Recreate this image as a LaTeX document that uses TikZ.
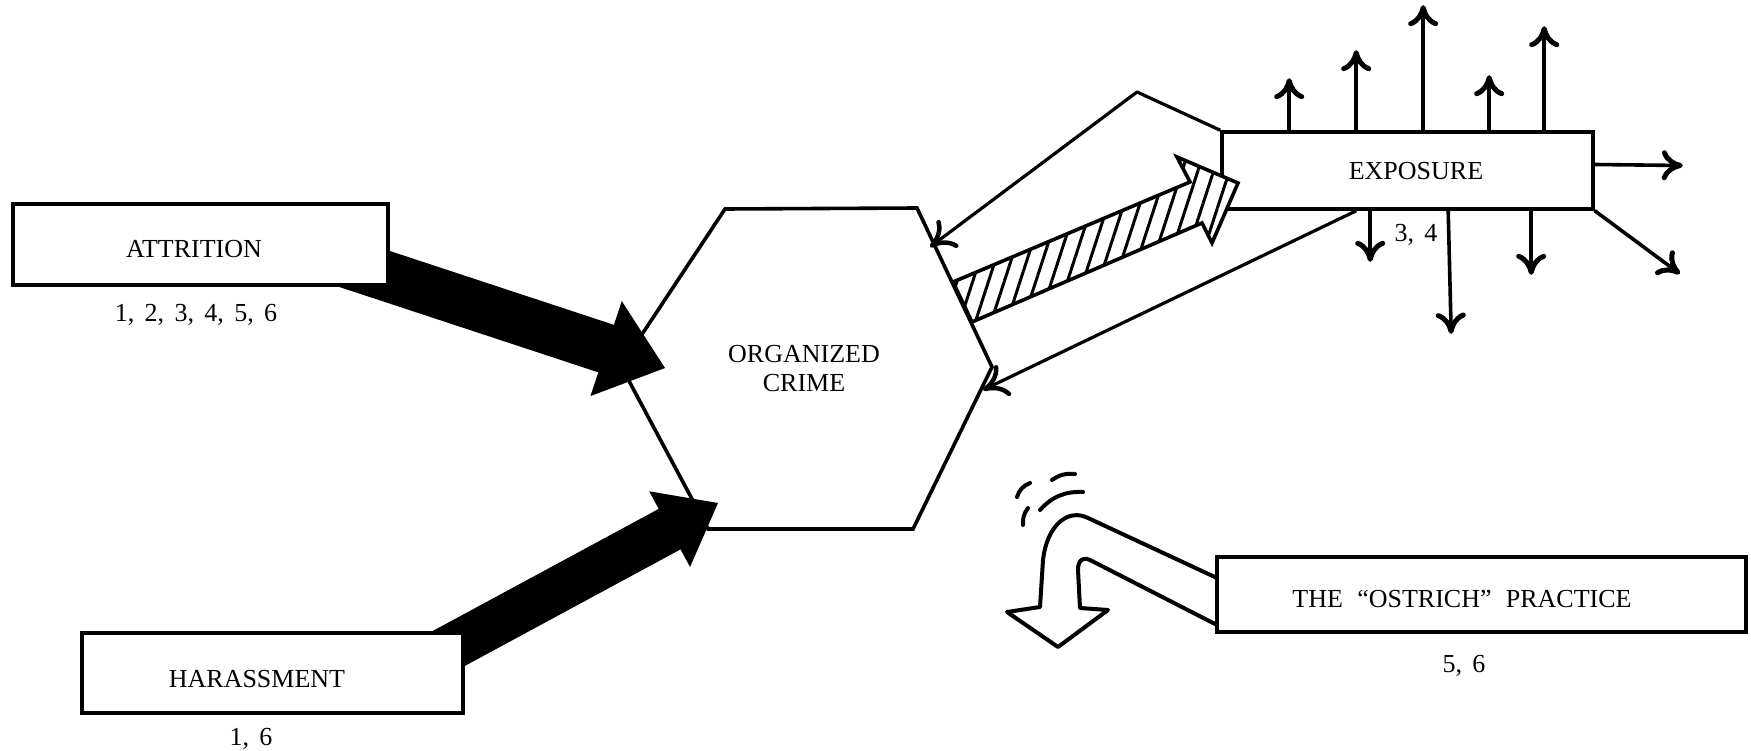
\documentclass[tikz,border=0pt]{standalone}
\usepackage{fontspec}
\setmainfont{Liberation Serif}
\usetikzlibrary{calc,arrows.meta,patterns.meta}

% block arrow: #1 name, #2 style, #3 start, #4 tip, #5 shaft half width, #6 head half width, #7 head length
\newcommand\blockarrow[7]{%
  \coordinate (#1-b) at ($(#4)!#7!(#3)$);
  \fill[#2] ($(#3)!#5!90:(#4)$) -- ($(#1-b)!#5!90:(#4)$) -- ($(#1-b)!#6!90:(#4)$) -- (#4)
     -- ($(#1-b)!#6!-90:(#4)$) -- ($(#1-b)!#5!-90:(#4)$) -- ($(#3)!#5!-90:(#4)$) -- cycle;
}
\newcommand\numspacing{\spaceskip=0.4em\relax}
\newcommand\ostspacing{\spaceskip=0.55em\relax}

\begin{document}
\begin{tikzpicture}[x=1pt,y=-1pt,
  box/.style={draw, line width=3.6pt, fill=white, inner sep=0pt,
    font=\fontsize{26}{30}\selectfont, text depth=0pt},
  num/.style={font=\fontsize{26}{30}\selectfont, execute at begin node=\numspacing, inner sep=0pt, anchor=base},
  ray/.style={line width=3.6pt, line cap=round,
    -{Computer Modern Rightarrow[length=21pt,width=30pt,line width=5pt]}},
  ret/.style={line width=3.2pt, line join=round,
    -{Computer Modern Rightarrow[length=24pt,width=34pt,line width=4.5pt]}},
  swoosh/.style={line width=4pt, line cap=round},
  outline/.style={line width=3.6pt, line join=miter}
]
\useasboundingbox (0,0) rectangle (1751,751);
\fill[white] (0,0) rectangle (1751,751);

% hexagon: organized crime
\draw[outline, fill=white] (725,209) -- (917,208) -- (992,367) -- (913,529) -- (708,529) -- (621,366) -- cycle;
\node[font=\fontsize{26}{29}\selectfont, align=center, inner sep=0pt] (oc) at (804,369) {ORGANIZED\\CRIME};

% black block arrows
\coordinate (attS) at (310,251);
\coordinate (attT) at (665,368);
\coordinate (harS) at (420,664);
\coordinate (harT) at (718,503);
\blockarrow{aa}{black}{attS}{attT}{25pt}{50pt}{62pt}
\blockarrow{ha}{black}{harS}{harT}{23pt}{43pt}{55pt}

% left boxes
\node[box, minimum width=375pt, minimum height=81pt, text height=27pt] (att) at (200.5,244.5) {ATTRITION\kern13pt};
\node[num] (attn) at (196,322) {1, 2, 3, 4, 5, 6};
\node[box, minimum width=381pt, minimum height=80pt, text height=28pt] (har) at (272.5,673) {HARASSMENT\kern31pt};
\node[num] (harn) at (251,745) {1, 6};

% exposure
\node[box, minimum width=371pt, minimum height=77pt, text height=19pt] (exp) at (1407.5,170.5) {\kern17pt EXPOSURE};
\node[num] (expn) at (1416,242) {3, 4};
\foreach \dx/\len in {69/52,136/80,203/125,269/55,324/104}
  \draw[ray] ($(exp.north west)+(\dx,0)$) -- ++(0,-\len);
\draw[ray] ($(exp.south west)+(150,0)$) -- ++(0,51);
\draw[ray] ($(exp.south west)+(228,0)$) -- ++(3,123);
\draw[ray] ($(exp.south west)+(311,0)$) -- ++(0,64);
\draw[ray] ($(exp.east)+(0,-6)$) -- ++(88,1);
\draw[ray] (exp.south east) -- ++(85,63);

% return arrows to organized crime
\coordinate (peak) at (1137,92);
\coordinate (rt1) at (930,247);
\coordinate (rt2) at (983,390);
\draw[ret] (exp.north west) -- (peak) -- (rt1);
\draw[ret] ($(exp.south west)+(136,0)$) -- (rt2);

% hatched arrow
\draw[outline, fill=white, postaction={pattern={Lines[angle=72,distance=15pt,line width=3pt]}}]
  (953,282) -- (1190,182) -- (1177,157) -- (1238,183) -- (1212,243) -- (1202,223) -- (972,322) -- cycle;

% ostrich bent arrow
\draw[line width=4pt, line join=round, line cap=round]
  (1217,578) -- (1088,518) .. controls (1068,508) and (1047,525) .. (1043,560)
  -- (1040,607) -- (1007,612) -- (1058,647) -- (1108,610) -- (1080,608) -- (1078,570)
  .. controls (1078,560) and (1083,556) .. (1092,561) -- (1217,625);
\draw[swoosh] (1017,497) to[bend left=25] (1030,483);
\draw[swoosh] (1023,525) to[bend left=20] (1028,508);
\draw[swoosh] (1052,480) to[bend left=20] (1075,474);
\draw[swoosh] (1040,510) to[bend left=25] (1083,492);

\node[box, minimum width=529pt, minimum height=75pt, text height=25pt, execute at begin node=\ostspacing] (ost) at (1481.5,594.5)
  {THE ``OSTRICH'' PRACTICE\kern39pt};
\node[num] (ostn) at (1464,672) {5, 6};
\end{tikzpicture}
\end{document}
